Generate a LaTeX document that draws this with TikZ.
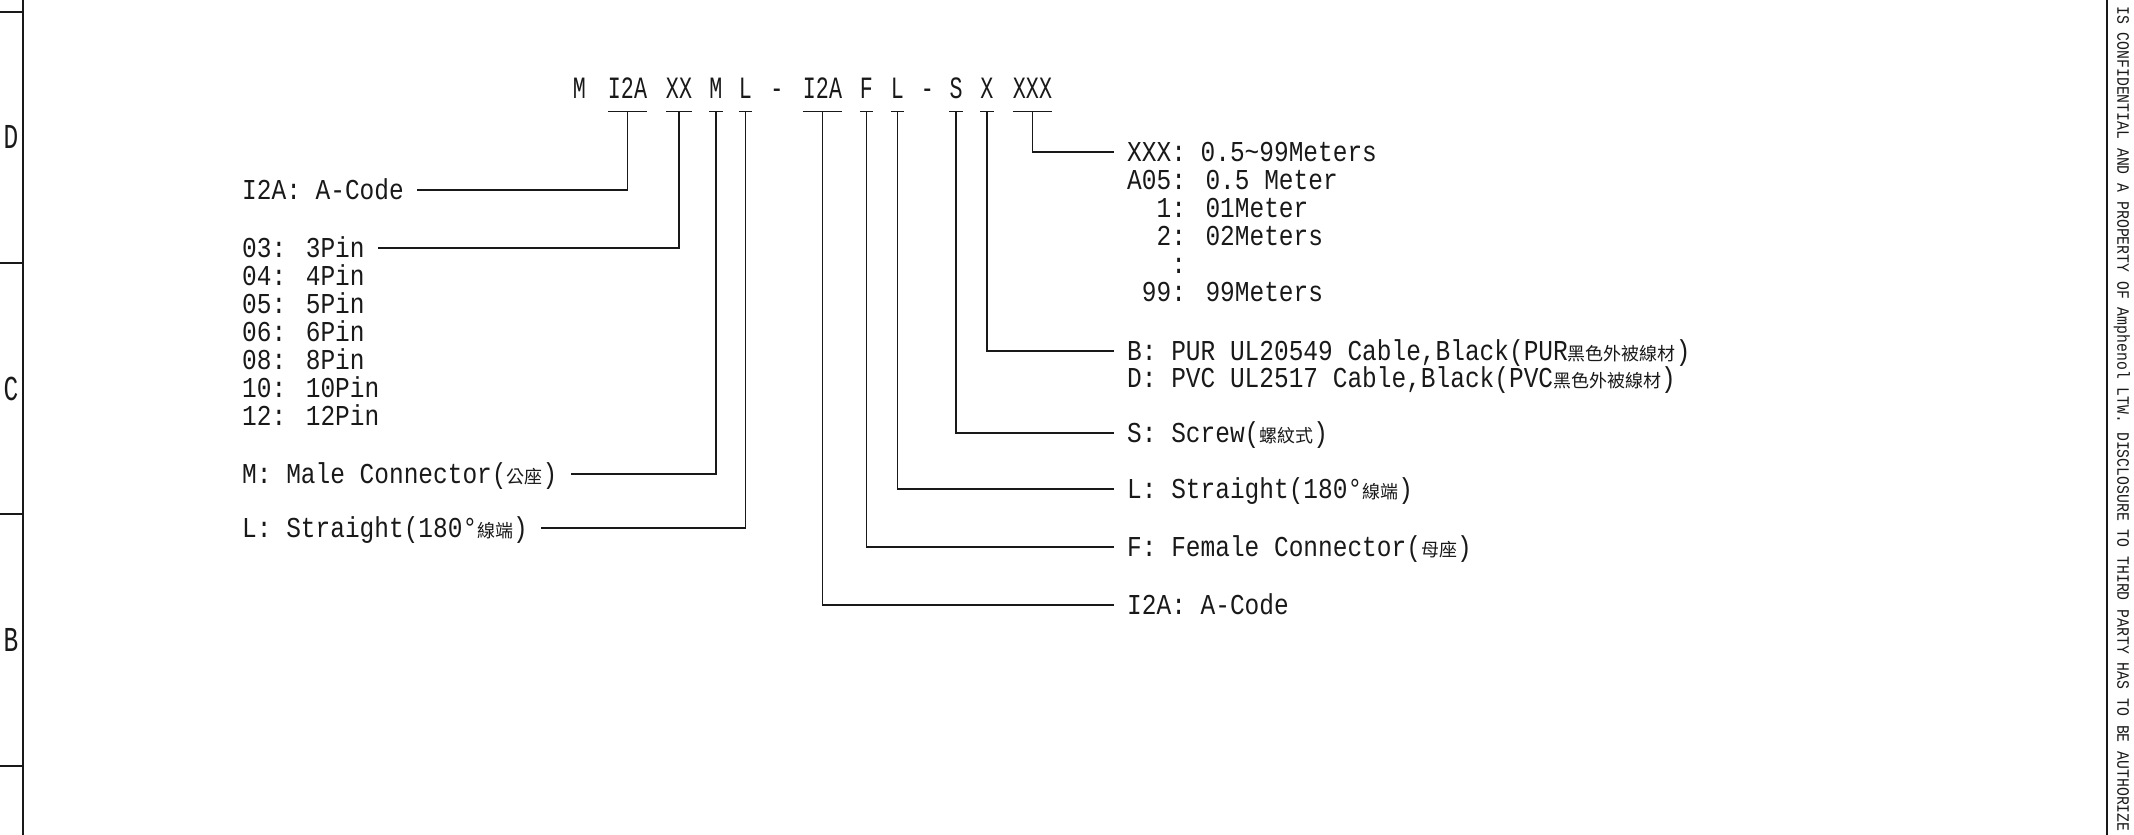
\documentclass[tikz,border=0pt]{standalone}
\usepackage{fontspec}
\usepackage{xcolor}
\usepackage{tikz}
\usetikzlibrary{positioning}
\newfontfamily\cadfont[FakeStretch=0.85]{Liberation Mono}
\newfontfamily\codefont[FakeStretch=0.7]{Liberation Mono}
\newfontfamily\cjkfont{Noto Sans CJK TC}
\newcommand{\zh}[1]{{\cjkfont\fontsize{18}{18}\selectfont #1}}
\definecolor{ink}{RGB}{25,25,25}

\begin{document}
\begin{tikzpicture}[
  x=1pt, y=-1pt,
  part/.style={font=\codefont\fontsize{31}{31}\selectfont, text=ink,
               inner sep=0pt, text height=21pt, text depth=0pt},
  lbl/.style={font=\cadfont\fontsize{28.8}{30}\selectfont, text=ink,
              inner xsep=13pt, inner ysep=0pt, text height=19pt,
              text depth=0pt, anchor=west},
  zone/.style={font=\codefont\fontsize{35}{35}\selectfont, text=ink,
               inner sep=0pt},
  note/.style={font=\cadfont\fontsize{17.4}{18}\selectfont, text=ink,
               inner sep=0pt, text height=11.5pt, text depth=0pt},
  wire/.style={draw=ink, line width=1.4pt},
  frame/.style={draw=ink, line width=1.5pt}
]
\clip (0,0) rectangle (2134,835);

% sheet border and zones
\draw[frame] (23,0) -- (23,835);
\draw[frame] (2107,0) -- (2107,835);
\draw[frame] (0,12) -- (23,12);
\draw[frame] (0,263) -- (23,263);
\draw[frame] (0,514) -- (23,514);
\draw[frame] (0,766) -- (23,766);
\node[zone] (zoneD) at (11,137) {D};
\node[zone] (zoneC) at (11,389) {C};
\node[zone] (zoneB) at (11,640) {B};
\node[note, rotate=-90, anchor=west] (disclaimer) at (2123,6)
  {IS CONFIDENTIAL AND A PROPERTY OF Amphenol LTW. DISCLOSURE TO THIRD PARTY HAS TO BE AUTHORIZE};

% part number
\node[part] (pfx) at (579.5,87.5) {M};
\node[part] (codeA) at (627.5,87.5) {I2A};
\node[part] (pins) at (679,87.5) {XX};
\node[part] (male) at (716,87.5) {M};
\node[part] (straightM) at (745.5,87.5) {L};
\node[part] (dashA) at (777,87.5) {-};
\node[part] (codeB) at (822.5,87.5) {I2A};
\node[part] (female) at (866.5,87.5) {F};
\node[part] (straightF) at (897.5,87.5) {L};
\node[part] (dashB) at (927.5,87.5) {-};
\node[part] (screw) at (956,87.5) {S};
\node[part] (cable) at (987,87.5) {X};
\node[part] (len) at (1032.5,87.5) {XXX};

% left legend
\node[lbl] (codeAtxt) at (229,190) {I2A: A-Code};
\node[lbl] (pin03) at (229,248) {03: 3Pin};
\node[lbl, below=8.6pt of pin03.south west, anchor=north west] (pin04) {04: 4Pin};
\node[lbl, below=8.6pt of pin04.south west, anchor=north west] (pin05) {05: 5Pin};
\node[lbl, below=8.6pt of pin05.south west, anchor=north west] (pin06) {06: 6Pin};
\node[lbl, below=8.6pt of pin06.south west, anchor=north west] (pin08) {08: 8Pin};
\node[lbl, below=8.6pt of pin08.south west, anchor=north west] (pin10) {10: 10Pin};
\node[lbl, below=8.6pt of pin10.south west, anchor=north west] (pin12) {12: 12Pin};
\node[lbl] (maleTxt) at (229,474) {M: Male Connector(\zh{公座})};
\node[lbl] (straightMTxt) at (229,528) {L: Straight(180°\zh{線端})};

% right legend
\node[lbl] (lenTxt) at (1114,152) {XXX: 0.5\textasciitilde 99Meters};
\node[lbl, below=8.5pt of lenTxt.south west, anchor=north west] (lenA05) {A05: 0.5 Meter};
\node[lbl, below=8.5pt of lenA05.south west, anchor=north west] (len01) {\phantom{00}1: 01Meter};
\node[lbl, below=8.5pt of len01.south west, anchor=north west] (len02) {\phantom{00}2: 02Meters};
\node[lbl, below=8.5pt of len02.south west, anchor=north west] (lenDots) {\phantom{000}:};
\node[lbl, below=8.5pt of lenDots.south west, anchor=north west] (len99) {\phantom{0}99: 99Meters};
\node[lbl] (cableTxt) at (1114,351) {B: PUR UL20549 Cable,Black(PUR\zh{黑色外被線材})};
\node[lbl, below=8pt of cableTxt.south west, anchor=north west] (cableD)
  {D: PVC UL2517 Cable,Black(PVC\zh{黑色外被線材})};
\node[lbl] (screwTxt) at (1114,433) {S: Screw(\zh{螺紋式})};
\node[lbl] (straightFTxt) at (1114,489) {L: Straight(180°\zh{線端})};
\node[lbl] (femaleTxt) at (1114,547) {F: Female Connector(\zh{母座})};
\node[lbl] (codeBTxt) at (1114,605) {I2A: A-Code};

% bars under the fields
\draw[wire] ([yshift=-13.5pt]codeA.south west) -- ([yshift=-13.5pt]codeA.south east);
\draw[wire] ([yshift=-13.5pt]pins.south west) -- ([yshift=-13.5pt]pins.south east);
\draw[wire] ([yshift=-13.5pt]male.south west) -- ([yshift=-13.5pt]male.south east);
\draw[wire] ([yshift=-13.5pt]straightM.south west) -- ([yshift=-13.5pt]straightM.south east);
\draw[wire] ([yshift=-13.5pt]codeB.south west) -- ([yshift=-13.5pt]codeB.south east);
\draw[wire] ([yshift=-13.5pt]female.south west) -- ([yshift=-13.5pt]female.south east);
\draw[wire] ([yshift=-13.5pt]straightF.south west) -- ([yshift=-13.5pt]straightF.south east);
\draw[wire] ([yshift=-13.5pt]screw.south west) -- ([yshift=-13.5pt]screw.south east);
\draw[wire] ([yshift=-13.5pt]cable.south west) -- ([yshift=-13.5pt]cable.south east);
\draw[wire] ([yshift=-13.5pt]len.south west) -- ([yshift=-13.5pt]len.south east);

% leaders
\draw[wire] ([yshift=-13.5pt]codeA.south) |- (codeAtxt.east);
\draw[wire] ([yshift=-13.5pt]pins.south) |- (pin03.east);
\draw[wire] ([yshift=-13.5pt]male.south) |- (maleTxt.east);
\draw[wire] ([yshift=-13.5pt]straightM.south) |- (straightMTxt.east);
\draw[wire] ([yshift=-13.5pt]codeB.south) |- (codeBTxt.west);
\draw[wire] ([yshift=-13.5pt]female.south) |- (femaleTxt.west);
\draw[wire] ([yshift=-13.5pt]straightF.south) |- (straightFTxt.west);
\draw[wire] ([yshift=-13.5pt]screw.south) |- (screwTxt.west);
\draw[wire] ([yshift=-13.5pt]cable.south) |- (cableTxt.west);
\draw[wire] ([yshift=-13.5pt]len.south) |- (lenTxt.west);
\end{tikzpicture}
\end{document}
